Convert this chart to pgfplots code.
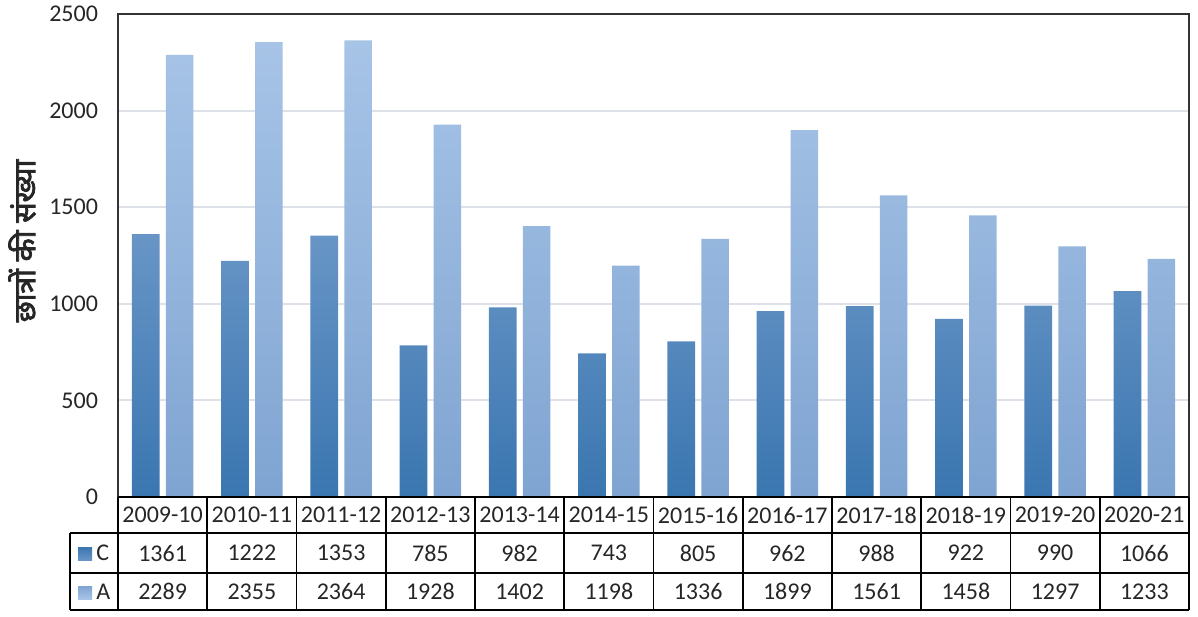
\documentclass[border=0pt]{standalone}
\usepackage{pgfplots}
\pgfplotsset{compat=1.18}
\usepackage{fontspec}
\setmainfont{Carlito}
\newfontfamily\deva[Script=Devanagari, FakeBold=2.5]{Noto Sans}
\definecolor{gridc}{HTML}{DDE2E8}
\definecolor{ctop}{HTML}{6895C6}
\definecolor{cmid}{HTML}{4A88C5}
\definecolor{cbot}{HTML}{3A76B0}
\definecolor{atop}{HTML}{A7C4E7}
\definecolor{amid}{HTML}{98B9E2}
\definecolor{abot}{HTML}{7FA4D1}
\definecolor{txt}{HTML}{262626}
\begin{document}
\begin{tikzpicture}[x=0.5pt,y=0.5pt]
\path[use as bounding box] (0,0) rectangle (1198,616);
\begin{axis}[at={(59pt,59.5pt)}, anchor=south west, scale only axis,
  width=535.5pt, height=241.5pt,
  xmin=-0.5, xmax=11.5, ymin=0, ymax=2500,
  ytick={0,500,1000,1500,2000,2500}, xtick=\empty,
  ymajorgrids, grid style={gridc, line width=1pt},
  axis line style={draw=black!80, line width=1pt},
  major tick length=0pt,
  /pgf/number format/assume math mode=true,
  /pgf/number format/1000 sep={},
  yticklabel style={font=\fontsize{12}{14}\selectfont, text=txt, xshift=-6.5pt},
  bar width=0.31, ybar,
  clip=false]
\addplot[draw=none, bar shift=-0.19, top color=ctop, middle color=cmid, bottom color=cbot] coordinates {
 (0,1361) (1,1222) (2,1353) (3,785) (4,982) (5,743) (6,805) (7,962) (8,988) (9,922) (10,990) (11,1066)};
\addplot[draw=none, bar shift=0.19, top color=atop, middle color=amid, bottom color=abot] coordinates {
 (0,2289) (1,2355) (2,2364) (3,1928) (4,1402) (5,1198) (6,1336) (7,1899) (8,1561) (9,1458) (10,1297) (11,1233)};
\end{axis}
\begin{scope}[shift={(0,616)}, yscale=-1]
% y label
\node[rotate=90, text=txt, font=\deva\fontsize{15}{18}\selectfont] at (22,241) {छात्रों की संख्या};
% table
\begin{scope}[line width=0.9pt, draw=black]
\draw (118,497) -- (1189,497);
\draw (70,533) -- (1189,533);
\draw (70,573) -- (1189,573);
\draw (70,610) -- (1189,610);
\draw (70,533) -- (70,610);
\foreach \k in {0,...,12} { \draw ({118+89.25*\k},497) -- ({118+89.25*\k},610); }
\end{scope}
\begin{scope}[every node/.style={font=\fontsize{12}{14}\selectfont, text=txt, inner sep=0pt}]
\foreach \i/\lab/\c/\a in {0/2009-10/1361/2289, 1/2010-11/1222/2355, 2/2011-12/1353/2364, 3/2012-13/785/1928, 4/2013-14/982/1402, 5/2014-15/743/1198, 6/2015-16/805/1336, 7/2016-17/962/1899, 8/2017-18/988/1561, 9/2018-19/922/1458, 10/2019-20/990/1297, 11/2020-21/1066/1233} {
  \node at ({118+89.25*(\i+0.5)},515) {\lab};
  \node at ({118+89.25*(\i+0.5)},553) {\c};
  \node at ({118+89.25*(\i+0.5)},591.5) {\a};
}
\shade[top color=cbot, bottom color=ctop] (78,547) rectangle (92,560);
\shade[top color=abot, bottom color=atop] (78,586) rectangle (92,599);
\node[anchor=west] at (96,553) {C};
\node[anchor=west] at (96,591.5) {A};
\end{scope}
\end{scope}
\end{tikzpicture}
\end{document}
